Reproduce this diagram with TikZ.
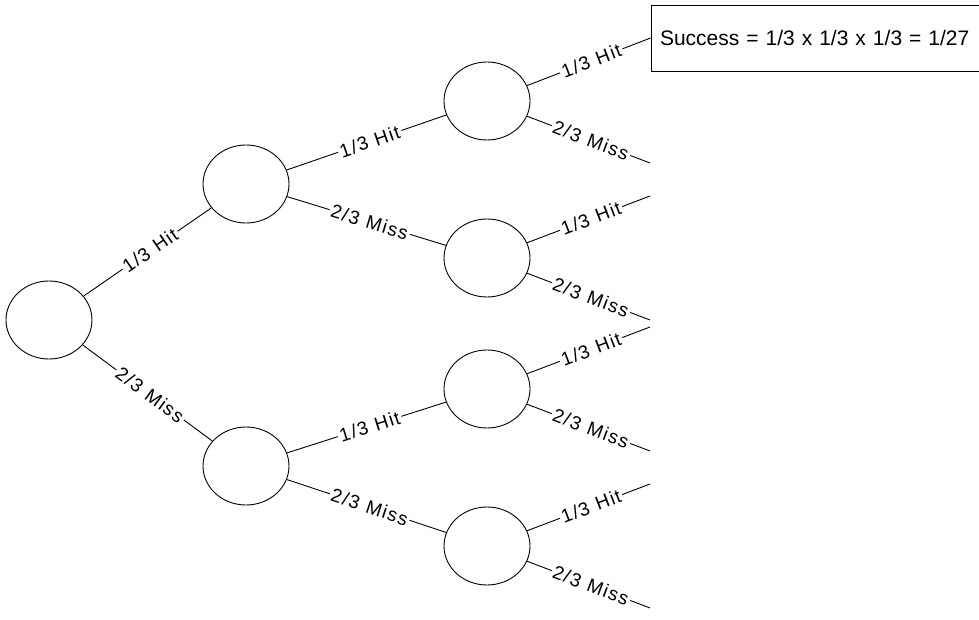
\documentclass[tikz,border=0pt]{standalone}
\usepackage{fontspec}
\setmainfont{Liberation Sans}
\newfontfamily\lblfont[LetterSpace=7]{Liberation Sans}
\usetikzlibrary{shapes.geometric}
\newcommand\lblhit{1/3\hspace{0.4em}Hit}
\newcommand\lblmiss{2/3\hspace{0.4em}Miss}
\begin{document}
\begin{tikzpicture}[x=1pt,y=-1pt,
  st/.style={draw, ellipse, minimum width=86pt, minimum height=78pt, inner sep=0pt, line width=0.9pt},
  br/.style={line width=0.9pt},
  lbl/.style={fill=white, sloped, inner xsep=2pt, inner ysep=1pt, font=\lblfont\fontsize{19}{19}\selectfont, pos=0.52}
]
\useasboundingbox (0,0) rectangle (979,620);
\node[st] (r) at (49,320) {};
\node[st] (a) at (246,184) {};
\node[st] (b) at (246,466) {};
\node[st] (a1) at (487,101) {};
\node[st] (a2) at (487,258) {};
\node[st] (b1) at (487,389) {};
\node[st] (b2) at (487,546) {};
\node[draw, line width=0.9pt, text width=310pt, inner xsep=9pt, inner ysep=0pt, minimum height=66pt, align=left, font=\fontsize{21}{22}\selectfont] (box) at (815,38) {Success = 1/3 x 1/3 x 1/3 = 1/27};
\coordinate (a1m) at (650,163);
\coordinate (a2h) at (650,196);
\coordinate (a2m) at (650,320);
\coordinate (b1h) at (650,327);
\coordinate (b1m) at (650,451);
\coordinate (b2h) at (650,484);
\coordinate (b2m) at (650,608);
\draw[br] (r) -- node[lbl]{\lblhit} (a);
\draw[br] (r) -- node[lbl]{\lblmiss} (b);
\draw[br] (a) -- node[lbl]{\lblhit} (a1);
\draw[br] (a) -- node[lbl]{\lblmiss} (a2);
\draw[br] (b) -- node[lbl]{\lblhit} (b1);
\draw[br] (b) -- node[lbl]{\lblmiss} (b2);
\draw[br] (a1) -- node[lbl]{\lblhit} (box.west);
\draw[br] (a1) -- node[lbl]{\lblmiss} (a1m);
\draw[br] (a2) -- node[lbl]{\lblhit} (a2h);
\draw[br] (a2) -- node[lbl]{\lblmiss} (a2m);
\draw[br] (b1) -- node[lbl]{\lblhit} (b1h);
\draw[br] (b1) -- node[lbl]{\lblmiss} (b1m);
\draw[br] (b2) -- node[lbl]{\lblhit} (b2h);
\draw[br] (b2) -- node[lbl]{\lblmiss} (b2m);
\end{tikzpicture}
\end{document}
